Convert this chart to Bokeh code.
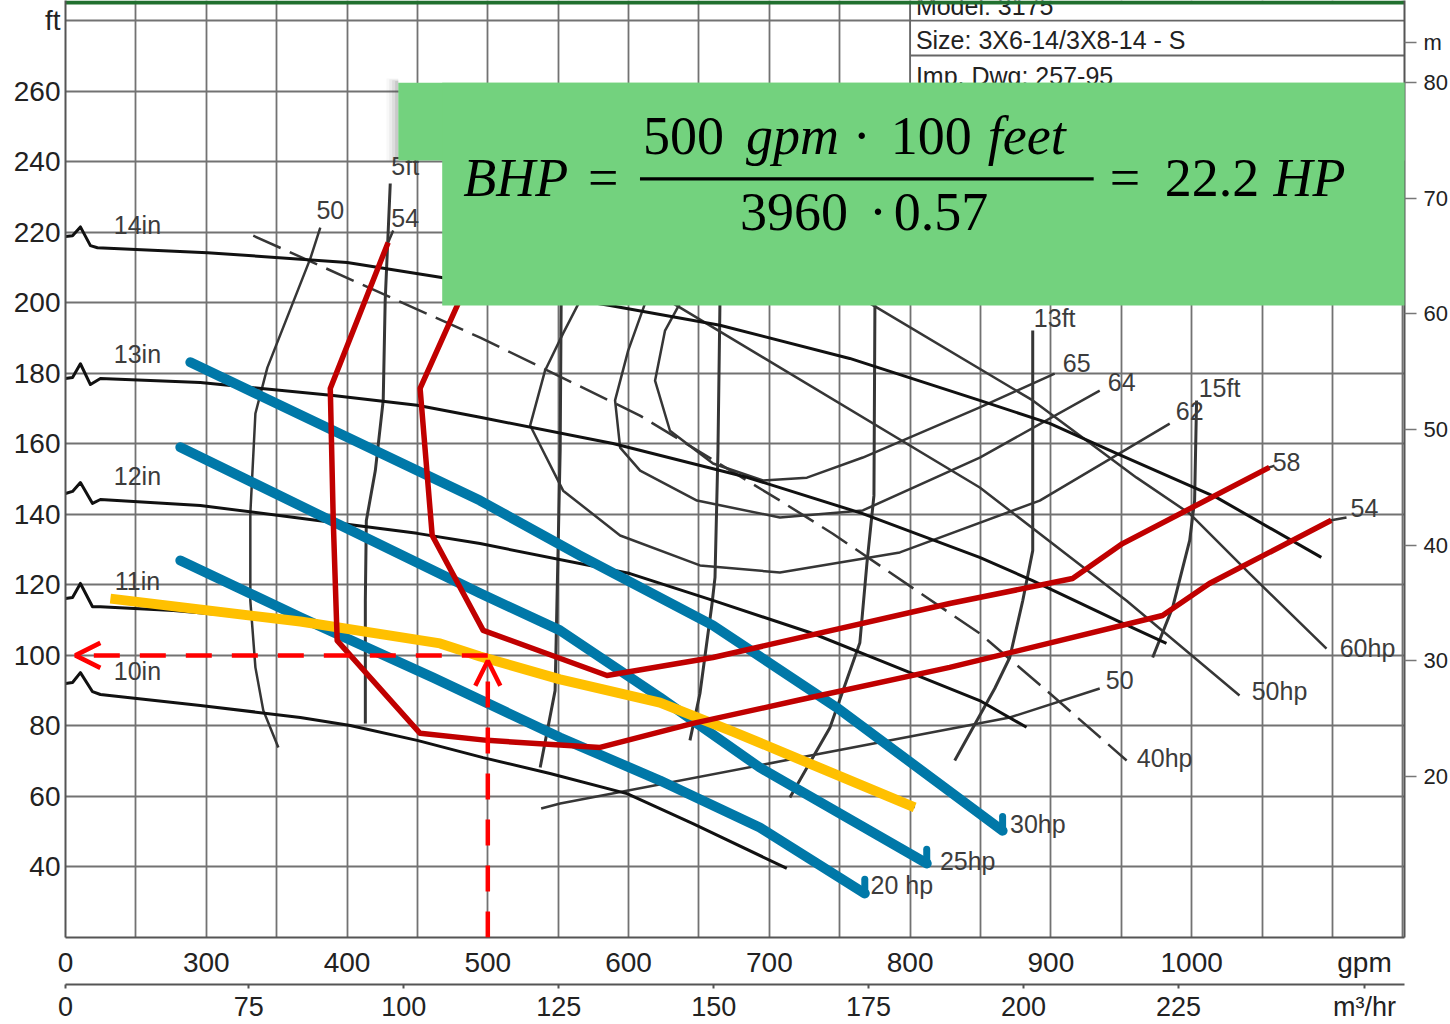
from bokeh.plotting import figure
from bokeh.models import (Range1d, LinearAxis, FixedTicker, Label, BoxAnnotation,
                          Arrow, OpenHead)
from bokeh.embed import file_html
from bokeh.resources import INLINE

# ---------------- axes data ----------------
GPM_PER_M3H = 4.4029
FT_PER_M = 3.2808
flow_ticks = [200, 300, 400, 500, 600, 700, 800, 900, 1000, 1122.8]
flow_tick_text = ["0", "300", "400", "500", "600", "700", "800", "900", "1000", "gpm"]
flow_grid = [200, 250, 300, 350, 400, 450, 500, 550, 600, 650, 700, 750, 800,
             850, 900, 950, 1000, 1050, 1100, 1150]
head_ticks = [40, 60, 80, 100, 120, 140, 160, 180, 200, 220, 240, 260, 280]
head_tick_text = ["40", "60", "80", "100", "120", "140", "160", "180", "200", "220", "240", "260", "ft"]
head_grid = [20, 40, 60, 80, 100, 120, 140, 160, 180, 200, 220, 240, 260, 280]
m3h_ticks = [200 / GPM_PER_M3H, 75, 100, 125, 150, 175, 200, 225, 1122.8 / GPM_PER_M3H]
m3h_tick_text = ["0", "75", "100", "125", "150", "175", "200", "225", "m\u00b3/hr"]
metre_ticks = [20, 30, 40, 50, 60, 70, 80, 83.46]
metre_tick_text = ["20", "30", "40", "50", "60", "70", "80", "m"]

# ---------------- impeller head curves (gpm, ft) ----------------
imp14_q = [200.0, 205.0, 210.6, 217.7, 222.7, 300.8, 400.1, 466.1, 586.8, 664.9, 757.1, 849.4, 899.1, 946.6, 1017.6, 1092.1]
imp14_h = [218.8, 219.0, 221.5, 216.2, 215.6, 214.2, 211.4, 207.2, 199.2, 193.6, 184.2, 172.3, 165.8, 157.3, 144.8, 127.8]
imp13_q = [200.0, 205.0, 210.6, 217.7, 224.8, 295.8, 390.2, 449.8, 494.5, 588.9, 684.0, 766.3, 849.4, 887.0, 946.6, 982.1]
imp13_h = [178.5, 178.8, 182.7, 176.8, 178.5, 177.4, 173.7, 170.9, 167.5, 160.1, 150.5, 140.2, 127.8, 121.2, 109.9, 103.4]
imp12_q = [200.0, 205.0, 210.6, 219.2, 224.8, 295.8, 390.2, 449.8, 494.5, 601.0, 659.9, 730.9, 778.4, 849.4, 882.7]
imp12_h = [145.9, 146.5, 149.0, 143.1, 144.2, 142.5, 137.7, 134.6, 131.7, 123.2, 115.6, 106.2, 98.6, 87.2, 79.6]
imp11_q = [200.0, 205.0, 210.6, 219.2, 224.8, 276.6, 366.8, 466.1, 494.5, 551.3, 622.3, 674.1, 803.2]
imp11_h = [116.1, 116.4, 120.4, 113.8, 113.8, 112.7, 109.6, 103.4, 99.7, 93.2, 86.6, 78.4, 56.9]
imp10_q = [200.0, 205.0, 210.6, 219.2, 224.8, 295.8, 366.8, 402.3, 449.8, 496.7, 544.2, 598.9, 645.7, 712.4]
imp10_h = [92.0, 92.3, 95.1, 89.7, 88.9, 85.8, 82.4, 80.1, 75.9, 71.0, 66.5, 60.8, 52.3, 39.6]

# ---------------- efficiency curves ----------------
eff50L_q = [381.0, 373.9, 343.4, 334.9, 331.3, 331.3, 334.9, 340.5, 351.2]
eff50L_h = [221.3, 212.5, 181.6, 168.6, 140.2, 115.5, 96.6, 84.4, 73.9]
eff50R_q = [537.9, 551.4, 870.8, 934.7]
eff50R_h = [56.6, 58.0, 82.4, 90.6]
eff54_q = [432.8, 429.2, 388.1, 390.2, 393.0, 451.9, 499.5, 579.7, 645.7, 719.5, 828.1, 979.3, 1012.6, 1099.2, 1110.0]
eff54_h = [220.5, 217.1, 175.7, 138.3, 104.2, 77.9, 75.9, 73.9, 80.7, 87.2, 96.6, 111.3, 120.4, 138.3, 139.1]
eff58_q = [495.8, 451.9, 460.5, 496.7, 584.7, 659.9, 828.1, 915.4, 950.9, 1055.2, 1058.9]
eff58_h = [214.8, 175.7, 134.0, 107.1, 94.3, 99.4, 114.7, 121.8, 131.7, 153.3, 153.8]
eff62_q = [565.5, 553.5, 540.7, 530.1, 553.5, 594.0, 650.7, 707.5, 792.7, 892.1, 984.4]
eff62_h = [200.6, 191.3, 180.8, 165.2, 146.7, 134.0, 125.5, 123.5, 129.2, 143.9, 165.7]
eff64_q = [611.7, 599.7, 590.4, 594.0, 608.2, 648.6, 707.5, 766.4, 849.5, 934.7]
eff64_h = [199.8, 186.4, 172.3, 158.9, 152.4, 143.9, 139.1, 141.1, 156.1, 175.1]
eff65_q = [636.5, 625.9, 618.8, 629.4, 660.0, 695.5, 726.7, 766.4, 849.5, 902.7]
eff65_h = [199.8, 192.1, 177.9, 163.7, 154.4, 149.6, 150.4, 156.1, 170.3, 179.9]

# highlighted efficiency curves (red overlay)
red54_q = [429.2, 388.1, 390.2, 393.0, 451.9, 499.5, 579.7, 645.7, 719.5, 828.1, 979.3, 1012.6, 1099.2]
red54_h = [217.1, 175.7, 138.3, 104.2, 77.9, 75.9, 73.9, 80.7, 87.2, 96.6, 111.3, 120.4, 138.3]
red58_q = [495.8, 451.9, 460.5, 496.7, 584.7, 659.9, 828.1, 915.4, 950.9, 1055.2]
red58_h = [214.8, 175.7, 134.0, 107.1, 94.3, 99.4, 114.7, 121.8, 131.7, 153.3]

# ---------------- NPSH lines ----------------
npsh5_q = [430.7, 427.1, 425.7, 420.1, 413.7, 413.0, 413.0]
npsh5_h = [233.8, 200.6, 172.3, 152.4, 138.2, 115.5, 80.7]
npshB_q = [552.1, 551.4, 547.8, 537.2]
npshB_h = [199.8, 158.1, 90.0, 68.2]
npshC_q = [664.9, 663.5, 661.4, 659.3, 650.7, 643.6]
npshC_h = [199.8, 158.1, 122.1, 114.7, 89.2, 75.9]
npshD_q = [775.0, 774.3, 769.3, 764.3, 743.0, 714.6]
npshD_h = [199.8, 145.3, 126.0, 103.6, 79.5, 59.7]
npsh13_q = [887.1, 887.1, 880.0, 870.8, 860.1, 831.7]
npsh13_h = [192.1, 129.7, 115.5, 99.4, 90.6, 70.2]
npsh15_q = [1003.5, 1002.1, 998.6, 986.5, 972.3]
npsh15_h = [172.3, 143.9, 132.6, 113.6, 99.4]

# ---------------- power lines ----------------
hp40_q = [333.4, 494.6, 608.1, 707.5, 745.1, 849.5, 897.0, 953.8]
hp40_h = [219.0, 190.1, 168.0, 143.9, 134.5, 106.2, 90.0, 70.2]
hp50_q = [631.6, 849.5, 953.8, 1034.0]
hp50_h = [199.8, 147.6, 115.5, 88.6]
hp60_q = [771.4, 887.1, 960.9, 998.6, 1041.2, 1095.8]
hp60_h = [199.8, 172.3, 150.4, 140.2, 123.2, 101.9]
# blue overlays
hp30_q = [288.7, 494.5, 565.5, 659.9, 747.9, 865.7]
hp30_h = [183.1, 143.9, 128.3, 108.5, 85.2, 50.3]
hp25_q = [281.6, 494.5, 551.3, 622.3, 693.2, 811.8]
hp25_h = [159.0, 117.6, 107.1, 88.1, 68.2, 41.0]
hp20_q = [281.6, 366.8, 461.2, 551.3, 622.3, 693.2, 767.8]
hp20_h = [126.9, 110.8, 93.7, 76.7, 64.5, 51.2, 32.5]
# yellow trimmed impeller
trim_q = [231.9, 366.8, 466.1, 494.5, 551.3, 622.3, 674.1, 803.2]
trim_h = [116.1, 109.6, 103.4, 99.7, 93.2, 86.6, 78.4, 56.9]

# operating point
op_gpm = 500
op_head = 100

# ---------------- curve labels ----------------
lab_text = ["14in", "13in", "12in", "11in", "10in", "5ft", "50", "54", "13ft", "65", "64",
            "15ft", "62", "58", "54", "60hp", "50hp", "50", "40hp", "30hp", "25hp", "20 hp"]
lab_q = [251.1, 251.1, 251.1, 251.1, 251.1, 441.3, 388.1, 441.3, 902.7, 918.3, 950.3,
         1019.8, 998.6, 1067.4, 1122.8, 1124.9, 1062.4, 948.9, 980.8, 890.7, 840.9, 794.1]
lab_h = [221.9, 185.6, 151.0, 121.2, 95.7, 238.8, 226.3, 224.1, 195.8, 183.0, 177.4,
         175.9, 169.4, 154.7, 141.9, 102.2, 90.0, 92.9, 71.0, 52.3, 41.8, 35.0]

# ---------------- figure ----------------
X0, X1 = 200, 1151.2
Y0, Y1 = 20, 285.7
p = figure(width=1450, height=1024, x_range=Range1d(X0, X1), y_range=Range1d(Y0, Y1),
           output_backend="svg", toolbar_location=None,
           min_border_left=65, min_border_right=45, min_border_top=0, min_border_bottom=87)
p.outline_line_color = None
p.background_fill_color = "white"
p.border_fill_color = "white"

FONT = "Liberation Sans"
AX = "#555555"
TXT = "#222222"

xa = p.xaxis[0]
xa.ticker = FixedTicker(ticks=flow_ticks)
xa.major_label_overrides = {t: s for t, s in zip(flow_ticks, flow_tick_text)}
xa.major_label_text_font = FONT
xa.major_label_text_font_size = "28px"
xa.major_label_text_color = TXT
xa.major_label_standoff = 9
xa.major_tick_out = 0
xa.major_tick_in = 0
xa.minor_tick_out = 0
xa.minor_tick_in = 0
xa.axis_line_color = AX
xa.axis_line_width = 2
xa.axis_label = "\u00a0"
xa.axis_label_text_font_size = "1px"
xa.axis_label_standoff = 0

ya = p.yaxis[0]
ya.ticker = FixedTicker(ticks=head_ticks)
ya.major_label_overrides = {t: s for t, s in zip(head_ticks, head_tick_text)}
ya.major_label_text_font = FONT
ya.major_label_text_font_size = "28px"
ya.major_label_text_color = TXT
ya.major_label_standoff = 5
ya.major_tick_out = 0
ya.major_tick_in = 0
ya.minor_tick_out = 0
ya.minor_tick_in = 0
ya.axis_line_color = AX
ya.axis_line_width = 2

p.extra_x_ranges = {"m3h": Range1d(X0 / GPM_PER_M3H, X1 / GPM_PER_M3H)}
p.extra_y_ranges = {"m": Range1d(Y0 / FT_PER_M, Y1 / FT_PER_M)}

xa2 = LinearAxis(x_range_name="m3h", ticker=FixedTicker(ticks=m3h_ticks),
                 major_label_overrides={t: s for t, s in zip(m3h_ticks, m3h_tick_text)},
                 major_label_text_font=FONT, major_label_text_font_size="27px",
                 major_label_text_color=TXT, major_label_standoff=3,
                 major_tick_out=4, major_tick_in=0, minor_tick_out=0, minor_tick_in=0,
                 axis_line_color=AX, axis_line_width=2, major_tick_line_color=AX,
                 major_tick_line_width=2)
p.add_layout(xa2, "below")

ya2 = LinearAxis(y_range_name="m", ticker=FixedTicker(ticks=metre_ticks),
                 major_label_overrides={t: s for t, s in zip(metre_ticks, metre_tick_text)},
                 major_label_text_font=FONT, major_label_text_font_size="22px",
                 major_label_text_color=TXT, major_label_standoff=7,
                 major_tick_out=12, major_tick_in=0, minor_tick_out=0, minor_tick_in=0,
                 axis_line_color=AX, axis_line_width=2, major_tick_line_color="#777777",
                 major_tick_line_width=1.5)
p.add_layout(ya2, "right")

p.xgrid.ticker = FixedTicker(ticks=flow_grid)
p.ygrid.ticker = FixedTicker(ticks=head_grid)
for g in (p.xgrid[0], p.ygrid[0]):
    g.grid_line_color = "#727272"
    g.grid_line_width = 1.8

# ---------------- title block (top right) ----------------
tb_left = 800.0
tb_rows = [Y1, 270.1, 260.2]
p.quad(left=tb_left, right=X1, bottom=tb_rows[2], top=tb_rows[0],
       fill_color="white", line_color=None)
p.segment(x0=[tb_left, tb_left, tb_left, tb_left], x1=[X1, X1, X1, tb_left],
          y0=[280, tb_rows[1], tb_rows[2], tb_rows[2]], y1=[280, tb_rows[1], tb_rows[2], tb_rows[0]],
          line_color="#666666", line_width=1.8)
tb_text = ["Model: 3175", "Size: 3X6-14/3X8-14 - S", "Imp. Dwg: 257-95"]
tb_text_h = [284.2, 274.6, 264.4]
p.text(x=[804.1] * 3, y=tb_text_h, text=tb_text, text_font={"value": FONT},
       text_font_size="25px", text_color=TXT, text_align="left", text_baseline="middle")

# ---------------- chart lines ----------------
THIN = "#363636"
for q, h in [(eff50L_q, eff50L_h), (eff50R_q, eff50R_h), (eff54_q, eff54_h), (eff58_q, eff58_h),
             (eff62_q, eff62_h), (eff64_q, eff64_h), (eff65_q, eff65_h),
             (hp50_q, hp50_h), (hp60_q, hp60_h)]:
    p.line(q, h, line_color=THIN, line_width=2.5, line_join="round")
p.line(hp40_q, hp40_h, line_color=THIN, line_width=2.5, line_dash="30 10")
for q, h in [(npsh5_q, npsh5_h), (npshB_q, npshB_h), (npshC_q, npshC_h), (npshD_q, npshD_h),
             (npsh13_q, npsh13_h), (npsh15_q, npsh15_h)]:
    p.line(q, h, line_color=THIN, line_width=3, line_join="round")
for q, h in [(imp14_q, imp14_h), (imp13_q, imp13_h), (imp12_q, imp12_h),
             (imp11_q, imp11_h), (imp10_q, imp10_h)]:
    p.line(q, h, line_color="#111111", line_width=3, line_join="round")

p.text(x=lab_q, y=lab_h, text=lab_text, text_font={"value": FONT}, text_font_size="25px",
       text_color="#3c3c3c", text_align="center", text_baseline="middle")

# ---------------- overlays ----------------
BLUE = "#0078A8"
blue_q = [hp30_q, hp25_q, hp20_q]
blue_h = [hp30_h, hp25_h, hp20_h]
for q, h in zip(blue_q, blue_h):
    p.line(q, h, line_color=BLUE, line_width=10, line_join="round", line_cap="round")
# small leader spur at the end of each power line
p.segment(x0=[q[-1] for q in blue_q], y0=[h[-1] for h in blue_h],
          x1=[q[-1] for q in blue_q], y1=[h[-1] + 4 for h in blue_h],
          line_color=BLUE, line_width=7, line_cap="round")
p.line(trim_q, trim_h, line_color="#FFC000", line_width=10, line_join="round")
RED = "#C00000"
p.line(red54_q, red54_h, line_color=RED, line_width=5.5, line_join="round")
p.line(red58_q, red58_h, line_color=RED, line_width=5.5, line_join="round")

p.add_layout(Arrow(x_start=op_gpm, y_start=op_head, x_end=207, y_end=op_head,
                   line_color="#FF0000", line_width=4.5, line_dash="26 20",
                   end=OpenHead(size=25, line_color="#FF0000", line_width=4.5)))
p.add_layout(Arrow(x_start=op_gpm, y_start=Y0, x_end=op_gpm, y_end=op_head - 1.5,
                   line_color="#FF0000", line_width=4.5, line_dash="26 20",
                   end=OpenHead(size=25, line_color="#FF0000", line_width=4.5)))

# slide top rule
p.quad(left=X0, right=X1, bottom=284.6, top=Y1, fill_color="#21702F", line_color=None)

# ---------------- formula box ----------------
GREEN = "#73D27E"
for i, a in enumerate([0.04, 0.07, 0.10, 0.14]):
    p.add_layout(BoxAnnotation(left=427.9 + 2.1 * i, right=436.4, top=263.6 - 0.25 * i, bottom=240.3,
                               fill_color="#555555", fill_alpha=a, line_color=None))
p.add_layout(BoxAnnotation(left=436.4, right=1190, top=262.4, bottom=240.3,
                           fill_color=GREEN, fill_alpha=1.0, line_color=None))
p.add_layout(BoxAnnotation(left=467.6, right=1168.9, top=262.4, bottom=199.2,
                           fill_color=GREEN, fill_alpha=1.0, line_color=None))
# fraction bar
p.add_layout(BoxAnnotation(left=608.1, right=930.4, top=235.55, bottom=234.65,
                           fill_color="black", fill_alpha=1.0, line_color=None))

SERIF = "Liberation Serif"
def ftxt(x, y, t, italic=False, align="left"):
    p.add_layout(Label(x=x, y=y, text=t, text_font=SERIF, text_font_size="54px",
                       text_font_style="italic" if italic else "normal",
                       text_color="black", text_align=align, text_baseline="middle"))

ROW_NUM, ROW_MID, ROW_DEN = 247.4, 235.3, 225.7
ftxt(482.5, ROW_MID, "BHP", italic=True)
ftxt(571.2, ROW_MID, "=")
ftxt(610.3, ROW_NUM, "500")
ftxt(683.4, ROW_NUM, "gpm", italic=True)
ftxt(765.7, ROW_NUM, "\u00b7", align="center")
ftxt(786.3, ROW_NUM, "100")
ftxt(855.2, ROW_NUM, "feet", italic=True)
ftxt(679.1, ROW_DEN, "3960")
ftxt(777.1, ROW_DEN, "\u00b7", align="center")
ftxt(788.4, ROW_DEN, "0.57")
ftxt(941.8, ROW_MID, "=")
ftxt(980.8, ROW_MID, "22.2")
ftxt(1058.2, ROW_MID, "HP", italic=True)

open("out.html", "w").write(file_html(p, INLINE))
